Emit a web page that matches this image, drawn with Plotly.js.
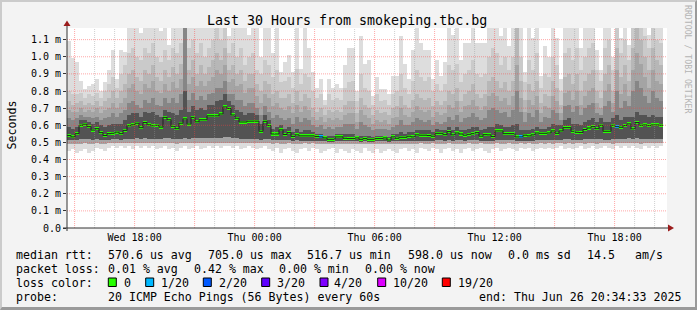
<!DOCTYPE html>
<html><head><meta charset="utf-8">
<script src="https://cdn.plot.ly/plotly-3.0.1.min.js"></script>
<style>
html,body{margin:0;padding:0;background:#f3f3f3;}
#wrap{position:relative;width:697px;height:310px;overflow:hidden;}
#chart{width:697px;height:310px;}
#frame{position:absolute;left:0;top:0;width:697px;height:310px;box-sizing:border-box;border-top:2px solid #cbcbcb;border-left:2px solid #cbcbcb;border-right:2px solid #9a9a9a;border-bottom:3px solid #9a9a9a;pointer-events:none;}
</style></head>
<body><div id="wrap"><div id="chart"></div><div id="frame"></div></div>
<script>
// ---- data (ms), one value per 12-minute column ----
const med = [
0.540,0.532,0.551,0.600,0.606,0.592,0.572,0.580,0.557,0.540,
0.551,0.553,0.560,0.551,0.570,0.597,0.603,0.612,0.586,0.616,
0.603,0.597,0.600,0.589,0.646,0.632,0.594,0.580,0.612,0.637,
0.607,0.646,0.620,0.632,0.632,0.655,0.655,0.655,0.666,0.707,
0.698,0.660,0.641,0.619,0.619,0.624,0.624,0.624,0.565,0.623,
0.598,0.549,0.549,0.573,0.546,0.557,0.535,0.544,0.538,0.538,
0.538,0.538,0.534,0.532,0.526,0.518,0.518,0.532,0.532,0.524,
0.522,0.522,0.526,0.518,0.522,0.518,0.518,0.522,0.522,0.526,
0.514,0.532,0.524,0.530,0.530,0.536,0.532,0.544,0.542,0.542,
0.540,0.536,0.553,0.553,0.545,0.563,0.544,0.555,0.549,0.542,
0.547,0.551,0.557,0.536,0.545,0.544,0.534,0.567,0.567,0.551,
0.551,0.551,0.532,0.532,0.542,0.538,0.544,0.555,0.553,0.553,
0.555,0.567,0.553,0.567,0.586,0.586,0.565,0.559,0.557,0.575,
0.584,0.592,0.580,0.600,0.565,0.565,0.600,0.592,0.588,0.598,
0.608,0.579,0.616,0.600,0.602,0.598,0.602,0.602,0.600];
const lossPct = [
0,0,0,0,0,0,0,0,0,0, 0,0,0,0,0,0,0,0,0,0, 0,0,0,0,0,0,0,0,0,0,
0,0,0,0,0,0,0,0,0,0, 0,0,0,0,0,0,0,0,0,0, 0,0,0,0,0,0,0,0,0,0,
0,0,0,0.42,0,0,0,0,0,0, 0,0,0,0,0,0,0,0,0,0, 0,0,0,0,0,0,0,0,0,0,
0,0,0,0,0,0,0,0,0,0, 0,0,0,0,0,0,0,0,0,0, 0,0,0,0.42,0,0,0,0,0,0,
0,0,0,0,0,0,0,0,0,0, 0,0,0,0,0,0,0,0.42,0,0, 0,0,0,0,0,0,0,0,0];
// smoke: sorted ping levels
const pMax = [
1.09,0.99,0.97,0.86,0.81,0.83,0.84,0.87,0.80,0.85,
0.92,1.04,0.87,1.04,1.03,1.17,1.17,1.17,1.14,1.17,
1.17,1.17,1.17,1.15,1.17,1.07,1.17,1.17,1.17,1.17,
1.17,1.17,1.17,1.17,1.17,1.17,1.17,1.17,1.17,1.17,
1.12,1.17,1.17,1.17,1.17,1.13,1.17,1.17,1.00,1.17,
1.17,1.02,1.17,0.91,0.97,1.01,0.91,1.17,0.93,1.17,
1.05,0.91,0.82,0.87,0.75,0.87,0.82,0.84,0.82,0.95,
1.05,1.05,0.80,1.12,0.96,0.98,0.77,0.88,0.81,0.81,
0.78,0.89,0.89,1.12,0.96,0.87,1.04,1.17,1.08,1.04,
1.04,0.87,0.98,0.89,0.97,1.17,1.13,1.17,0.98,1.08,
1.08,1.17,1.08,1.08,1.08,1.17,1.17,1.17,1.12,1.17,
1.06,1.17,1.17,1.17,0.91,1.17,1.11,1.17,0.89,1.06,
1.00,1.17,1.11,0.87,1.17,1.17,1.17,1.17,1.05,1.17,
1.17,1.17,1.04,0.92,1.17,1.17,1.00,1.17,1.11,1.17,
1.07,1.17,1.17,1.17,1.17,1.13,1.17,1.17,1.17];
const p19 = [
0.80,0.78,0.78,0.79,0.76,0.78,0.77,0.79,0.76,0.80,
0.84,0.88,0.82,0.90,0.95,1.02,1.05,1.00,0.98,1.05,
1.02,1.08,1.00,0.97,1.04,0.98,1.05,1.02,1.08,1.17,
1.05,1.10,1.02,1.08,1.00,1.05,1.10,1.17,1.10,1.17,
1.02,1.08,1.00,1.05,0.95,1.00,1.02,0.92,0.90,0.98,
0.95,0.88,0.92,0.85,0.86,0.88,0.82,0.93,0.84,0.90,
0.88,0.80,0.76,0.78,0.72,0.78,0.75,0.76,0.75,0.82,
0.85,0.86,0.74,0.90,0.82,0.80,0.72,0.78,0.74,0.75,
0.72,0.78,0.80,0.90,0.82,0.78,0.86,0.92,0.88,0.86,
0.88,0.80,0.84,0.80,0.84,0.95,0.92,0.96,0.85,0.90,
0.92,0.98,0.90,0.88,0.90,1.00,1.05,1.02,0.95,1.00,
0.92,1.00,1.17,1.00,0.85,0.98,0.92,1.02,0.82,0.90,
0.88,1.00,0.95,0.80,1.02,1.05,0.98,1.05,0.92,1.00,
1.05,1.08,0.92,0.86,1.05,1.10,0.92,1.17,1.02,1.10,
0.98,1.17,1.17,1.17,1.12,1.05,1.17,1.10,1.08];
const p18 = [
0.74,0.72,0.73,0.74,0.72,0.73,0.72,0.74,0.71,0.74,
0.76,0.80,0.76,0.80,0.84,0.90,0.92,0.88,0.86,0.92,
0.90,0.95,0.88,0.86,0.92,0.88,0.94,0.90,0.96,1.17,
0.92,0.98,0.90,0.95,0.90,0.94,0.98,1.02,0.98,1.05,
0.92,0.95,0.90,0.92,0.86,0.90,0.90,0.84,0.80,0.86,
0.84,0.78,0.80,0.76,0.76,0.78,0.73,0.80,0.74,0.78,
0.76,0.70,0.68,0.70,0.66,0.69,0.68,0.69,0.68,0.72,
0.74,0.74,0.67,0.76,0.72,0.70,0.66,0.69,0.67,0.68,
0.66,0.70,0.71,0.77,0.72,0.70,0.75,0.78,0.76,0.75,
0.76,0.71,0.74,0.72,0.74,0.80,0.78,0.82,0.74,0.78,
0.80,0.84,0.78,0.76,0.78,0.86,0.88,0.86,0.82,0.85,
0.80,0.86,1.17,0.86,0.75,0.84,0.80,0.86,0.73,0.78,
0.77,0.86,0.82,0.72,0.88,0.90,0.84,0.90,0.80,0.86,
0.90,0.92,0.80,0.76,0.90,0.95,0.80,1.05,0.88,0.95,
0.86,1.05,1.17,1.10,1.00,0.92,1.05,0.98,0.95];
const p17 = [
0.69,0.68,0.68,0.70,0.68,0.69,0.68,0.70,0.67,0.69,
0.70,0.73,0.70,0.73,0.76,0.82,0.84,0.80,0.78,0.84,
0.82,0.86,0.80,0.79,0.84,0.80,0.85,0.82,0.87,1.17,
0.84,0.88,0.83,0.86,0.83,0.86,0.88,0.92,0.90,0.95,
0.85,0.87,0.83,0.84,0.79,0.82,0.82,0.77,0.73,0.78,
0.76,0.71,0.73,0.70,0.69,0.71,0.67,0.72,0.68,0.71,
0.69,0.65,0.63,0.65,0.62,0.64,0.63,0.64,0.63,0.66,
0.67,0.67,0.62,0.69,0.66,0.64,0.61,0.63,0.62,0.63,
0.61,0.64,0.65,0.70,0.66,0.65,0.68,0.71,0.69,0.68,
0.69,0.65,0.68,0.66,0.67,0.72,0.70,0.74,0.68,0.71,
0.72,0.75,0.71,0.69,0.71,0.77,0.79,0.77,0.74,0.76,
0.72,0.77,0.95,0.76,0.68,0.75,0.72,0.77,0.67,0.71,
0.70,0.77,0.74,0.67,0.79,0.80,0.75,0.80,0.72,0.77,
0.80,0.82,0.73,0.70,0.80,0.84,0.73,0.92,0.78,0.84,
0.77,0.92,1.02,0.96,0.88,0.82,0.92,0.86,0.84];
const p15 = [
0.64,0.63,0.64,0.66,0.65,0.65,0.64,0.65,0.63,0.64,
0.65,0.67,0.65,0.67,0.69,0.73,0.74,0.72,0.70,0.75,
0.73,0.76,0.72,0.71,0.76,0.73,0.76,0.73,0.78,1.17,
0.75,0.79,0.75,0.77,0.75,0.78,0.79,0.82,0.82,0.86,
0.78,0.78,0.75,0.75,0.71,0.73,0.73,0.70,0.66,0.71,
0.68,0.64,0.66,0.64,0.63,0.64,0.61,0.65,0.62,0.64,
0.63,0.60,0.59,0.60,0.58,0.59,0.58,0.59,0.59,0.61,
0.61,0.61,0.58,0.62,0.60,0.59,0.57,0.58,0.58,0.58,
0.57,0.59,0.60,0.63,0.60,0.60,0.62,0.64,0.63,0.62,
0.63,0.60,0.62,0.61,0.62,0.65,0.63,0.66,0.62,0.64,
0.65,0.67,0.65,0.63,0.64,0.69,0.70,0.69,0.67,0.68,
0.65,0.69,0.80,0.68,0.62,0.67,0.65,0.69,0.62,0.65,
0.64,0.69,0.67,0.63,0.71,0.72,0.68,0.71,0.66,0.70,
0.72,0.73,0.67,0.66,0.71,0.74,0.68,0.80,0.70,0.74,
0.71,0.80,0.86,0.82,0.77,0.73,0.80,0.76,0.74];
const p13 = [
0.59,0.58,0.59,0.63,0.63,0.62,0.61,0.62,0.60,0.59,
0.60,0.61,0.61,0.61,0.63,0.66,0.67,0.67,0.65,0.68,
0.67,0.68,0.66,0.65,0.69,0.68,0.67,0.66,0.69,0.80,
0.68,0.71,0.69,0.70,0.69,0.72,0.72,0.74,0.75,0.78,
0.74,0.72,0.69,0.68,0.66,0.67,0.67,0.66,0.61,0.66,
0.63,0.58,0.59,0.60,0.58,0.59,0.56,0.58,0.56,0.57,
0.57,0.56,0.55,0.55,0.54,0.54,0.54,0.55,0.55,0.55,
0.55,0.55,0.54,0.54,0.54,0.54,0.53,0.54,0.54,0.54,
0.53,0.55,0.55,0.56,0.55,0.56,0.56,0.57,0.57,0.57,
0.57,0.56,0.58,0.57,0.57,0.59,0.57,0.59,0.57,0.57,
0.58,0.59,0.59,0.57,0.58,0.59,0.59,0.61,0.60,0.59,
0.59,0.60,0.61,0.57,0.57,0.57,0.58,0.59,0.58,0.58,
0.59,0.61,0.60,0.60,0.63,0.64,0.61,0.61,0.60,0.62,
0.63,0.64,0.62,0.64,0.62,0.62,0.64,0.66,0.63,0.65,
0.65,0.65,0.68,0.66,0.66,0.65,0.66,0.65,0.65];
const pMin = [
0.45,0.46,0.44,0.45,0.46,0.44,0.45,0.47,0.46,0.45,
0.47,0.48,0.47,0.48,0.47,0.48,0.46,0.48,0.47,0.48,
0.47,0.48,0.46,0.47,0.48,0.46,0.47,0.45,0.47,0.48,
0.46,0.47,0.48,0.46,0.47,0.48,0.47,0.48,0.47,0.48,
0.48,0.47,0.48,0.46,0.47,0.48,0.47,0.46,0.47,0.48,
0.46,0.45,0.47,0.44,0.46,0.47,0.45,0.44,0.46,0.47,
0.45,0.47,0.46,0.44,0.45,0.46,0.47,0.44,0.46,0.45,
0.44,0.46,0.45,0.44,0.47,0.45,0.44,0.46,0.44,0.45,
0.46,0.45,0.44,0.46,0.47,0.45,0.46,0.44,0.47,0.46,
0.45,0.47,0.46,0.44,0.46,0.47,0.45,0.46,0.44,0.46,
0.47,0.45,0.46,0.47,0.45,0.44,0.46,0.47,0.45,0.46,
0.47,0.46,0.45,0.47,0.46,0.47,0.45,0.46,0.47,0.46,
0.47,0.46,0.47,0.48,0.46,0.47,0.46,0.47,0.48,0.46,
0.47,0.48,0.46,0.47,0.48,0.47,0.46,0.48,0.47,0.48,
0.47,0.48,0.47,0.46,0.48,0.47,0.48,0.47,0.48];
const p3 = [
0.490,0.492,0.488,0.490,0.494,0.488,0.490,0.495,0.492,0.490,
0.494,0.497,0.495,0.497,0.495,0.498,0.494,0.497,0.495,0.498,
0.496,0.498,0.494,0.495,0.498,0.494,0.496,0.492,0.496,0.498,
0.495,0.496,0.498,0.494,0.496,0.498,0.496,0.498,0.497,0.498,
0.498,0.496,0.498,0.494,0.496,0.498,0.496,0.494,0.495,0.498,
0.494,0.492,0.495,0.488,0.492,0.495,0.491,0.488,0.492,0.494,
0.490,0.494,0.492,0.488,0.490,0.490,0.493,0.488,0.492,0.490,
0.488,0.491,0.490,0.488,0.492,0.490,0.488,0.491,0.488,0.490,
0.489,0.490,0.488,0.491,0.493,0.490,0.491,0.488,0.494,0.492,
0.490,0.494,0.492,0.488,0.492,0.494,0.490,0.492,0.488,0.492,
0.494,0.490,0.492,0.494,0.490,0.488,0.492,0.495,0.490,0.492,
0.494,0.492,0.490,0.494,0.492,0.494,0.490,0.492,0.494,0.492,
0.494,0.492,0.494,0.497,0.492,0.494,0.492,0.494,0.497,0.492,
0.494,0.497,0.492,0.494,0.497,0.494,0.492,0.497,0.494,0.497,
0.494,0.497,0.494,0.492,0.497,0.494,0.497,0.494,0.497];
const p7 = [
0.515,0.512,0.514,0.520,0.520,0.518,0.516,0.518,0.515,0.514,
0.516,0.517,0.518,0.516,0.518,0.522,0.522,0.524,0.520,0.524,
0.522,0.522,0.522,0.520,0.526,0.524,0.520,0.518,0.522,0.526,
0.522,0.526,0.524,0.524,0.524,0.526,0.526,0.526,0.528,0.532,
0.530,0.526,0.524,0.522,0.522,0.522,0.522,0.522,0.516,0.522,
0.520,0.514,0.514,0.516,0.512,0.514,0.510,0.512,0.510,0.510,
0.510,0.510,0.510,0.508,0.506,0.505,0.505,0.508,0.508,0.506,
0.506,0.506,0.507,0.505,0.506,0.505,0.505,0.506,0.506,0.507,
0.504,0.508,0.506,0.507,0.507,0.509,0.508,0.511,0.510,0.510,
0.510,0.509,0.512,0.512,0.511,0.514,0.511,0.513,0.512,0.511,
0.512,0.512,0.514,0.509,0.511,0.511,0.509,0.516,0.516,0.513,
0.513,0.513,0.508,0.508,0.511,0.510,0.511,0.513,0.513,0.513,
0.513,0.516,0.513,0.516,0.520,0.520,0.516,0.514,0.514,0.518,
0.520,0.521,0.519,0.522,0.516,0.516,0.522,0.521,0.520,0.522,
0.523,0.518,0.524,0.522,0.522,0.522,0.522,0.522,0.522];
// axis labels & legend texts
const yTickVals = [0,0.1,0.2,0.3,0.4,0.5,0.6,0.7,0.8,0.9,1.0,1.1];
const yTickText = ['0.0','0.1 m','0.2 m','0.3 m','0.4 m','0.5 m','0.6 m','0.7 m','0.8 m','0.9 m','1.0 m','1.1 m'];
const xTickVals = ['2025-06-25 18:00','2025-06-26 00:00','2025-06-26 06:00','2025-06-26 12:00','2025-06-26 18:00'];
const xTickText = ['Wed 18:00','Thu 00:00','Thu 06:00','Thu 12:00','Thu 18:00'];
const lossLevels = [0, 5, 10, 15, 20, 50, 95];   // percent upper bounds for 0,1/20,2/20,3/20,4/20,10/20,19/20
const lossNames = ['0','1/20','2/20','3/20','4/20','10/20','19/20'];
const lossColors = ['#26ff00','#00b8ff','#0059ff','#5e00ff','#7e00ff','#dd00ff','#ff0000'];
const rttLine = ['median rtt:','570.6 us avg','705.0 us max','516.7 us min','598.0 us now','0.0 ms sd','14.5','am/s'];
const lossLine = ['packet loss:','0.01 % avg','0.42 % max','0.00 % min','0.00 % now'];
const probeLine = ['probe:','20 ICMP Echo Pings (56 Bytes) every 60s','end: Thu Jun 26 20:34:33 2025'];
const titleText = 'Last 30 Hours from smokeping.tbc.bg';

// ---- geometry ----
const STEP = 12*60*1000;
const T0 = Date.UTC(2025,5,25,14,37,12);
const T1 = T0 + 30*3600*1000;
const YMAX = 1.168;
const fmt = ms => new Date(ms).toISOString().replace('T',' ').replace('Z','');
const N = med.length;
const xc = med.map((v,k)=>fmt(T0+(k+0.5)*STEP));
const PL=67, PT=28, PW=600, PH=200;
const px = x => (x-PL)/PW;
const py = y => (PT+PH-y)/PH;
const FONT = 'DejaVu Sans Mono';

const pairs = [
  [pMin,pMax,'#dddddd'],
  [p3,p19,'#cacaca'],
  [p3,p18,'#b7b7b7'],
  [p3,p17,'#a4a4a4'],
  [p7,p15,'#868686'],
  [p7,p13,'#535353']
];
const traces = pairs.map(([lo,hi,c])=>({
  type:'bar', x:xc, base:lo, y:hi.map((h,k)=>h-lo[k]), width:STEP,
  marker:{color:c, line:{width:0}}, hoverinfo:'skip', showlegend:false
}));
// median stair line
const mx = med.map((v,k)=>fmt(T0+k*STEP)).concat([fmt(T0+N*STEP)]);
const my = med.concat([med[N-1]]);
traces.push({type:'scatter', mode:'lines', x:mx, y:my, line:{shape:'hv', color:'#202020', width:1}, hoverinfo:'skip', showlegend:false});
// loss-coloured median marks
const SW = 0.0088;
const lossColor = p => { for(let i=0;i<lossLevels.length;i++){ if(p<=lossLevels[i]) return lossColors[i]; } return lossColors[lossColors.length-1]; };
traces.push({type:'bar', x:xc, base:med.map(v=>v-SW), y:med.map(()=>2*SW), width:STEP,
  marker:{color:lossPct.map(lossColor), line:{width:0}}, hoverinfo:'skip', showlegend:false});

// ---- grid & axes as shapes (drawn above the smoke) ----
const shapes = [];
for(let t=Date.UTC(2025,5,25,15); t<T1; t+=3600000){
  const major = new Date(t).getUTCHours()%3===0;
  shapes.push({type:'line', xref:'x', yref:'paper', x0:fmt(t), x1:fmt(t), y0:0, y1:1, layer:'above',
    line:{color: major?'rgba(255,60,60,0.45)':'rgba(150,150,150,0.45)', width:1, dash:'1px,1px'}});
}
yTickVals.slice(1).forEach(v=>shapes.push({type:'line', xref:'paper', yref:'y', x0:0, x1:1, y0:v, y1:v, layer:'above',
  line:{color:'rgba(255,60,60,0.45)', width:1, dash:'1px,1px'}}));
shapes.push({type:'line', xref:'paper', yref:'paper', x0:px(63), x1:px(668), y0:0, y1:0, layer:'above', line:{color:'#333', width:1}});
shapes.push({type:'line', xref:'paper', yref:'paper', x0:0, x1:0, y0:py(231), y1:py(25), layer:'above', line:{color:'#333', width:1}});
shapes.push({type:'path', xref:'paper', yref:'paper', layer:'above', fillcolor:'#9b1c1c', line:{width:0},
  path:`M ${px(63.5)},${py(26)} L ${px(70.5)},${py(26)} L ${px(67)},${py(20.5)} Z`});
shapes.push({type:'path', xref:'paper', yref:'paper', layer:'above', fillcolor:'#9b1c1c', line:{width:0},
  path:`M ${px(668)},${py(224.5)} L ${px(668)},${py(231.5)} L ${px(674)},${py(228)} Z`});

// ---- texts ----
const annotations = [];
const A = (text,x,y,size,extra) => annotations.push(Object.assign({text, x:px(x), y:py(y), xref:'paper', yref:'paper',
  showarrow:false, xanchor:'left', yanchor:'middle', borderpad:0, font:{family:FONT, size, color:'#000'}}, extra||{}));
A(titleText, 347.4, 20.5, 13.3, {xanchor:'center'});
A('Seconds', 11, 125.5, 11.6, {xanchor:'center', textangle:-90});
A('RRDTOOL / TOBI OETIKER', 688, 59, 8.2, {xanchor:'center', textangle:90, font:{family:FONT,size:8.2,color:'#b4b4b4'}});
const rttX = [16,107.3,207.3,306.9,407.7,507.3,586.7,635];
rttLine.forEach((t,i)=>A(t, rttX[i]-0.7, 254.5, 11.6));
const lossX = [16,107.3,193.3,278.3,365];
lossLine.forEach((t,i)=>A(t, lossX[i]-0.7, 268.7, 11.6));
A('loss color:', 15.3, 282.8, 11.6);
const swX = [108.3,145.7,203.3,261.7,320,377.7,442.3];
const swLabX = [123.3,160.7,218.3,276.7,334,392.3,457.3];
lossNames.forEach((n,i)=>{
  shapes.push({type:'rect', xref:'paper', yref:'paper', layer:'above', x0:px(swX[i]), x1:px(swX[i]+8), y0:py(286.5), y1:py(278),
    fillcolor:lossColors[i], line:{color:'#000', width:1}});
  A(n, swLabX[i]-0.7, 282.8, 11.6);
});
const probeX = [16,107.3,478.3];
probeLine.forEach((t,i)=>A(t, probeX[i]-0.7, 296.9, 11.6));

const layout = {
  width:697, height:310, margin:{l:PL, r:697-PL-PW, t:PT, b:310-PT-PH, pad:0},
  paper_bgcolor:'#f3f3f3', plot_bgcolor:'#ffffff',
  barmode:'overlay', bargap:0, showlegend:false,
  xaxis:{type:'date', range:[fmt(T0), fmt(T1)], showgrid:false, zeroline:false, showline:false,
    tickmode:'array', tickvals:xTickVals, ticktext:xTickText, ticks:'', ticklabelstandoff:2, fixedrange:true,
    tickfont:{family:FONT, size:10, color:'#000'}},
  yaxis:{range:[0,YMAX], showgrid:false, zeroline:false, showline:false, tickmode:'array',
    tickvals:yTickVals, ticktext:yTickText, ticks:'outside', ticklen:3, tickcolor:'#333', fixedrange:true,
    tickfont:{family:FONT, size:10, color:'#000'}},
  shapes, annotations
};
Plotly.newPlot('chart', traces, layout, {staticPlot:true, displayModeBar:false});
</script></body></html>
